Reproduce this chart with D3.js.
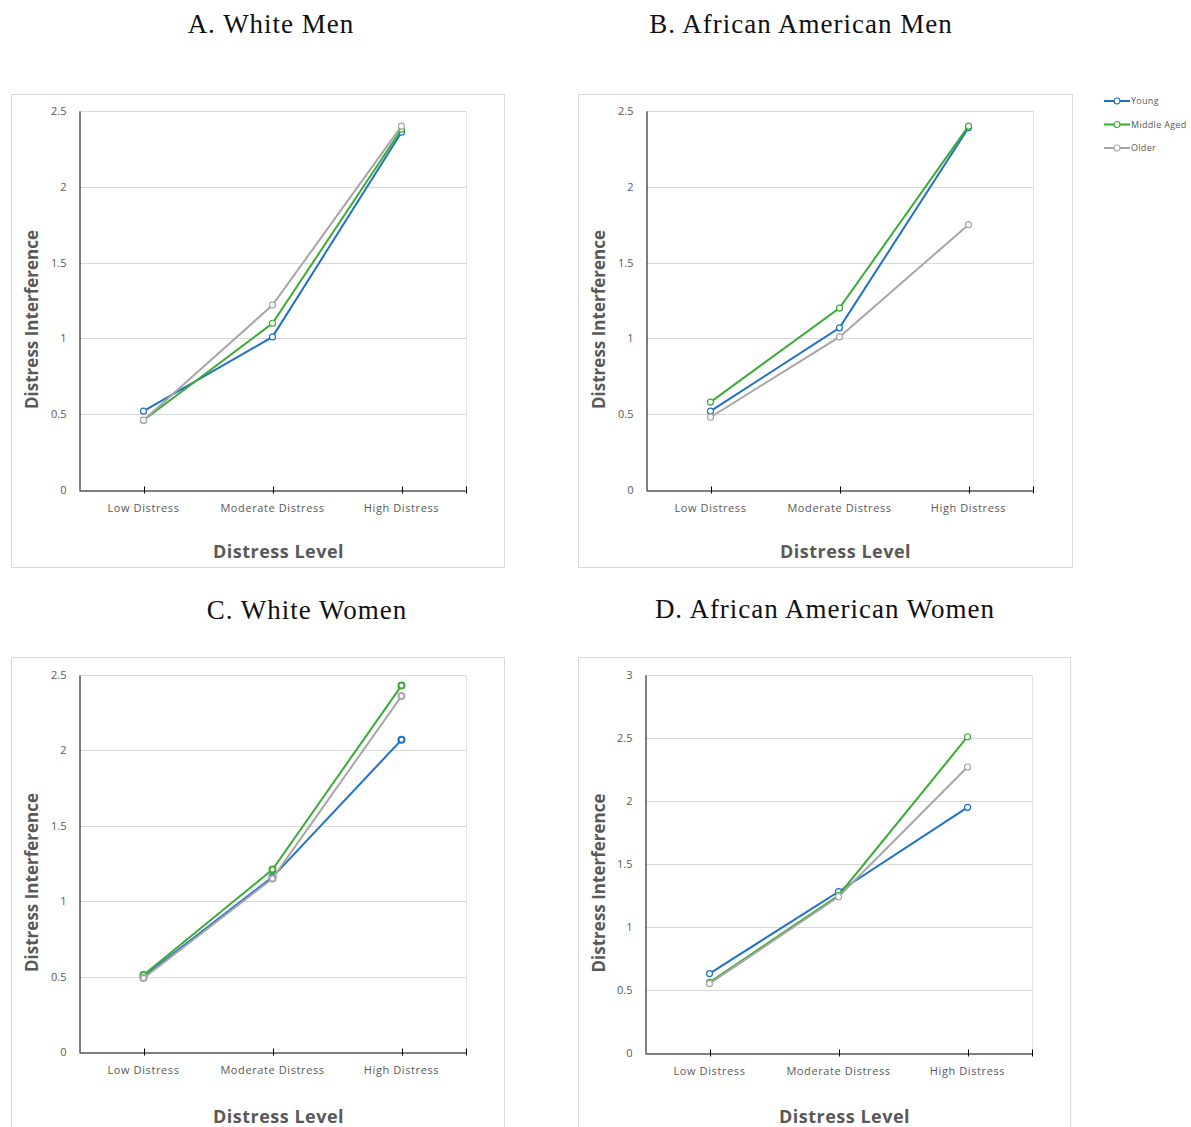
<!DOCTYPE html>
<html>
<head>
<meta charset="utf-8">
<script src="https://cdn.jsdelivr.net/npm/d3@7"></script>
<style>
  body { margin: 0; background: #fff; }
  .tick-y { font-family: "Open Sans", sans-serif; font-size: 11px; fill: #595959; }
  .tick-x { font-family: "Open Sans", sans-serif; font-size: 11px; fill: #595959; letter-spacing: 0.6px; }
  .ax-title { font-family: "Open Sans", sans-serif; font-weight: bold; fill: #595959; }
  .panel-title { font-family: "Liberation Serif", serif; font-size: 27px; fill: #111; letter-spacing: 1px; }
</style>
</head>
<body>
<div id="chart"></div>
<script>
// categories and series
const categories = ["Low Distress", "Moderate Distress", "High Distress"];
const seriesNames = ["Young", "Middle Aged", "Older"];
const seriesColors = ["#1f70c8", "#3cab35", "#a6a6a6"];

// values, one row per series (Young, Middle Aged, Older)
const whiteMen = [[0.52, 1.01, 2.36], [0.46, 1.10, 2.38], [0.46, 1.22, 2.40]];
const africanAmericanMen = [[0.52, 1.07, 2.39], [0.58, 1.20, 2.40], [0.48, 1.01, 1.75]];
const whiteWomen = [[0.50, 1.16, 2.07], [0.51, 1.21, 2.43], [0.49, 1.15, 2.36]];
const africanAmericanWomen = [[0.63, 1.28, 1.95], [0.56, 1.25, 2.51], [0.55, 1.24, 2.27]];

const ticksTo25 = [0, 0.5, 1, 1.5, 2, 2.5];
const ticksTo3 = [0, 0.5, 1, 1.5, 2, 2.5, 3];

const width = 1191, height = 1127;
const svg = d3.select("#chart").append("svg")
    .attr("width", width)
    .attr("height", height);

const panels = [
    {title: "A. White Men", data: whiteMen, ticks: ticksTo25, tx: 271, ty: 33, xt: 68, mw: 1.2,
     box: [11, 94, 493, 473], plot: [79, 111, 466, 490]},
    {title: "B. African American Men", data: africanAmericanMen, ticks: ticksTo25, tx: 801, ty: 33, xt: 68, mw: 1.2,
     box: [578, 94, 494, 473], plot: [646, 111, 1033, 490]},
    {title: "C. White Women", data: whiteWomen, ticks: ticksTo25, tx: 307, ty: 619, xt: 71, mw: 2,
     box: [11, 657, 493, 490], plot: [79, 675, 466, 1052]},
    {title: "D. African American Women", data: africanAmericanWomen, ticks: ticksTo3, tx: 825, ty: 618, xt: 70, mw: 1.2,
     box: [578, 657, 492, 490], plot: [645, 675, 1032, 1053]}
];

panels.forEach(function(p) {
    const [l, t, r, b] = p.plot;

    svg.append("text")
        .attr("class", "panel-title")
        .attr("x", p.tx).attr("y", p.ty)
        .attr("text-anchor", "middle")
        .text(p.title);

    svg.append("rect")
        .attr("x", p.box[0] + 0.5).attr("y", p.box[1] + 0.5)
        .attr("width", p.box[2]).attr("height", p.box[3])
        .attr("fill", "none")
        .attr("stroke", "#d9d9d9");

    const x = d3.scaleBand().domain(categories).range([l, r]);
    const y = d3.scaleLinear().domain([0, d3.max(p.ticks)]).range([b, t]);

    const g = svg.append("g");

    // gridlines
    g.selectAll(".grid")
        .data(p.ticks.filter(d => d > 0))
        .enter().append("line")
        .attr("x1", l).attr("x2", r)
        .attr("y1", d => Math.round(y(d)) + 0.5)
        .attr("y2", d => Math.round(y(d)) + 0.5)
        .attr("stroke", "#d9d9d9");
    g.append("line")
        .attr("x1", r + 0.5).attr("x2", r + 0.5)
        .attr("y1", t).attr("y2", b)
        .attr("stroke", "#e3e3e3");

    // y axis
    const yAxis = g.append("g")
        .attr("transform", "translate(" + (l + 0.5) + ",0)")
        .call(d3.axisLeft(y).tickValues(p.ticks).tickSize(0).tickPadding(13).tickFormat(d3.format("")));
    yAxis.select(".domain").attr("stroke", "#000");
    yAxis.selectAll("text").attr("class", "tick-y").attr("fill", null);

    // x axis
    const xAxis = g.append("g")
        .attr("transform", "translate(0," + (b + 0.5) + ")")
        .call(d3.axisBottom(x).tickSize(0).tickPadding(14));
    xAxis.select(".domain").attr("stroke", "#000");
    xAxis.selectAll("text").attr("class", "tick-x").attr("fill", null);
    const tickPos = categories.map(c => x(c) + x.bandwidth() / 2).concat([r]);
    xAxis.selectAll(".xt")
        .data(tickPos)
        .enter().append("line")
        .attr("x1", d => Math.round(d) + 0.5).attr("x2", d => Math.round(d) + 0.5)
        .attr("y1", -4).attr("y2", 3)
        .attr("stroke", "#000");

    // axis titles
    svg.append("text")
        .attr("class", "ax-title")
        .attr("font-size", 17)
        .attr("transform", "translate(" + (p.box[0] + 27) + "," + ((t + b) / 2 + 19) + ") rotate(-90)")
        .attr("text-anchor", "middle")
        .text("Distress Interference");
    svg.append("text")
        .attr("class", "ax-title")
        .attr("font-size", 18)
        .attr("letter-spacing", 0.5)
        .attr("x", (l + r) / 2 + 6)
        .attr("y", b + p.xt)
        .attr("text-anchor", "middle")
        .text("Distress Level");

    // series lines and markers
    const line = d3.line()
        .x((d, i) => x(categories[i]) + x.bandwidth() / 2)
        .y(d => y(d));

    p.data.forEach(function(vals, si) {
        g.append("path")
            .datum(vals)
            .attr("d", line)
            .attr("fill", "none")
            .attr("stroke", seriesColors[si])
            .attr("stroke-width", 2);
        g.selectAll(".m" + si)
            .data(vals)
            .enter().append("circle")
            .attr("cx", (d, i) => x(categories[i]) + x.bandwidth() / 2)
            .attr("cy", d => y(d))
            .attr("r", 3)
            .attr("fill", "#fff")
            .attr("stroke", seriesColors[si])
            .attr("stroke-width", p.mw);
    });
});

// legend
const legend = svg.append("g").attr("transform", "translate(1104,101)");
seriesNames.forEach(function(name, i) {
    const row = legend.append("g").attr("transform", "translate(0," + (i * 23.5) + ")");
    row.append("line")
        .attr("x1", 0).attr("x2", 26)
        .attr("stroke", seriesColors[i]).attr("stroke-width", 2);
    row.append("circle")
        .attr("cx", 13).attr("r", 3)
        .attr("fill", "#fff").attr("stroke", seriesColors[i]).attr("stroke-width", 1.2);
    row.append("text")
        .attr("x", 27).attr("y", 3)
        .attr("font-family", "Open Sans, sans-serif")
        .attr("font-size", 9)
        .attr("letter-spacing", 0.3)
        .attr("fill", "#595959")
        .text(name);
});
</script>
</body>
</html>
